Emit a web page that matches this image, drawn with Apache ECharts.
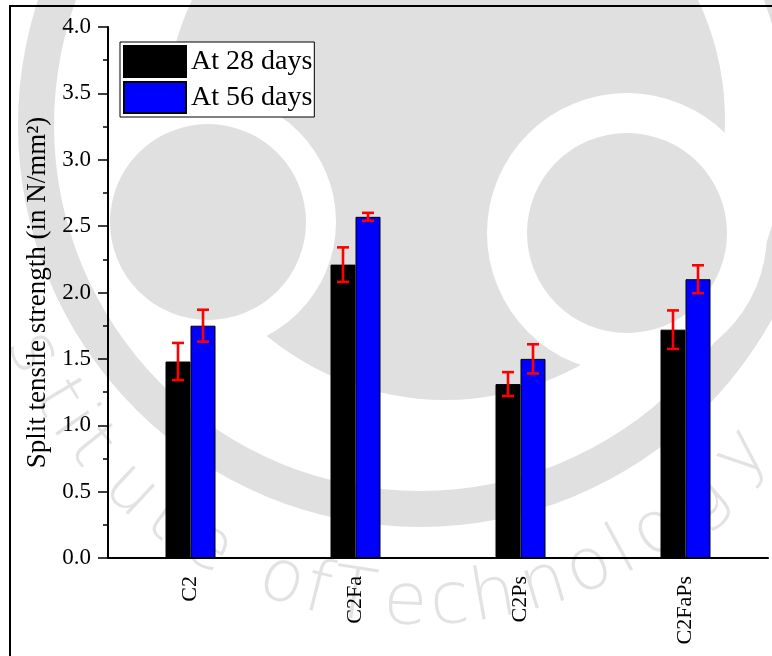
<!DOCTYPE html>
<html>
<head>
<meta charset="utf-8">
<script src="https://cdn.jsdelivr.net/npm/echarts@6/dist/echarts.min.js"></script>
<style>
html,body{margin:0;padding:0;background:#fff;}
#chart{width:772px;height:656px;}
</style>
</head>
<body>
<div id="chart"></div>
<script>
// ---- data ----
const categories = ['C2', 'C2Fa', 'C2Ps', 'C2FaPs'];
const seriesNames = ['At 28 days', 'At 56 days'];
const strength28 = [1.48, 2.21, 1.31, 1.72];
const strength56 = [1.75, 2.57, 1.50, 2.10];
const error28 = [0.14, 0.13, 0.09, 0.145];
const error56 = [0.12, 0.03, 0.11, 0.105];
const yTicks = [0, 0.5, 1.0, 1.5, 2.0, 2.5, 3.0, 3.5, 4.0];

// ---- watermark decoration (background logo seal) ----
const wmChars = ['s','t','i','t','u','t','e','o','f','T','e','c','h','n','o','l','o','g','y'];
const wmAngles = [156, 149, 145, 141, 133, 127, 120, 109, 104, 99, 92, 86, 80, 73, 66.5, 61.5, 56, 48.5, 40.5];

const FONT = '"Times New Roman", "Liberation Serif", serif';
const BAR_W = 25;
const WM = '#e0e0e0';

function errorSeries(values, errors, offset) {
  const data = values.map((v, i) => [i, v, errors[i]]);
  return {
    type: 'custom',
    z: 5,
    silent: true,
    data: data,
    encode: { x: 0, y: 1 },
    renderItem: function (params, api) {
      const i = api.value(0);
      const v = api.value(1);
      const e = api.value(2);
      const top = api.coord([i, v + e]);
      const bot = api.coord([i, v - e]);
      const x = top[0] + offset;
      const cap = 6;
      const style = { stroke: '#ff0000', lineWidth: 2.6 };
      return {
        type: 'group',
        children: [
          { type: 'line', shape: { x1: x, y1: top[1], x2: x, y2: bot[1] }, style: style },
          { type: 'line', shape: { x1: x - cap, y1: top[1], x2: x + cap, y2: top[1] }, style: style },
          { type: 'line', shape: { x1: x - cap, y1: bot[1], x2: x + cap, y2: bot[1] }, style: style }
        ]
      };
    }
  };
}

const wmCx = 420, wmCy = 180, wmR = 425;
const wmText = wmChars.map((ch, k) => {
  const a = wmAngles[k] * Math.PI / 180;
  return {
    type: 'text', z: -7, silent: true,
    x: wmCx + wmR * Math.cos(a),
    y: wmCy + wmR * Math.sin(a),
    rotation: (90 - wmAngles[k]) * Math.PI / 180,
    style: { text: ch, fill: '#e2e2e2', font: '200 72px "DejaVu Sans", "Liberation Sans", sans-serif', align: 'center', verticalAlign: 'middle' }
  };
});

const chart = echarts.init(document.getElementById('chart'), null, { renderer: 'canvas' });

const option = {
  backgroundColor: '#fff',
  animation: false,
  graphic: [
    { type: 'ring', z: -11, silent: true, shape: { cx: 420, cy: 125, r: 402, r0: 366 }, style: { fill: WM } },
    { type: 'circle', z: -10, silent: true, shape: { cx: 445, cy: 120, r: 280 }, style: { fill: WM } },
    { type: 'circle', z: -9, silent: true, shape: { cx: 208, cy: 222, r: 128 }, style: { fill: '#fff' } },
    { type: 'circle', z: -9, silent: true, shape: { cx: 627, cy: 233, r: 140 }, style: { fill: '#fff' } },
    { type: 'circle', z: -8, silent: true, shape: { cx: 208, cy: 222, r: 98 }, style: { fill: WM } },
    { type: 'circle', z: -8, silent: true, shape: { cx: 627, cy: 233, r: 100 }, style: { fill: WM } }
  ].concat(wmText).concat([
    // outer frame
    { type: 'rect', z: 10, silent: true, shape: { x: 10, y: 6, width: 900, height: 900 }, style: { fill: 'none', stroke: '#000', lineWidth: 2 } }
  ]),
  grid: { left: 108, right: 4, top: 27, bottom: 98, containLabel: false, outerBoundsMode: 'none' },
  legend: {
    data: seriesNames,
    left: 120,
    top: 42,
    orient: 'vertical',
    itemWidth: 62,
    itemHeight: 31,
    itemGap: 3,
    padding: [3, 2, 3, 3],
    backgroundColor: '#fff',
    borderColor: '#000',
    borderWidth: 1,
    icon: 'rect',
    textStyle: { fontFamily: FONT, fontSize: 28, color: '#000' }
  },
  xAxis: {
    type: 'category',
    data: categories,
    name: 'Mix ID',
    nameLocation: 'middle',
    nameGap: 64,
    nameTextStyle: { fontFamily: FONT, fontSize: 28, color: '#000' },
    axisLine: { lineStyle: { color: '#000', width: 2 } },
    axisTick: { alignWithLabel: true, length: 9, lineStyle: { color: '#000', width: 2 } },
    axisLabel: { rotate: 90, margin: 18, fontFamily: FONT, fontSize: 22, color: '#000' },
    splitLine: { show: false }
  },
  yAxis: {
    type: 'value',
    min: 0,
    max: 4,
    interval: 0.5,
    name: 'Split tensile strength (in N/mm²)',
    nameLocation: 'middle',
    nameGap: 57,
    nameTextStyle: { fontFamily: FONT, fontSize: 27, color: '#000' },
    axisLine: { show: true, lineStyle: { color: '#000', width: 2 } },
    axisTick: { show: true, length: 10, lineStyle: { color: '#000', width: 1.5 } },
    minorTick: { show: true, splitNumber: 2, length: 5, lineStyle: { color: '#000', width: 1.5 } },
    axisLabel: {
      margin: 17, fontFamily: FONT, fontSize: 23, color: '#000',
      formatter: v => (yTicks.indexOf(v) >= 0 ? v.toFixed(1) : '')
    },
    splitLine: { show: false }
  },
  series: [
    {
      name: seriesNames[0], type: 'bar', data: strength28, barWidth: BAR_W, barGap: '0%', z: 3,
      itemStyle: { color: '#000000', borderColor: '#000', borderWidth: 1 }
    },
    {
      name: seriesNames[1], type: 'bar', data: strength56, barWidth: BAR_W, barGap: '0%', z: 3,
      itemStyle: { color: '#0000ff', borderColor: '#000', borderWidth: 1 }
    },
    errorSeries(strength28, error28, -BAR_W / 2),
    errorSeries(strength56, error56, BAR_W / 2)
  ]
};
chart.setOption(option);
</script>
</body>
</html>
